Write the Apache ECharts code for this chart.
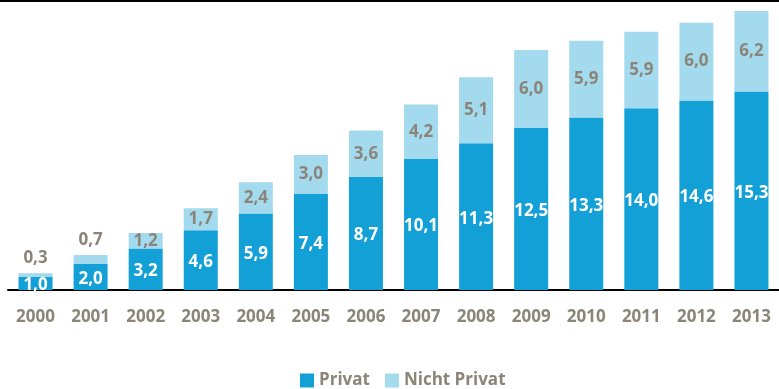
<!DOCTYPE html>
<html>
<head>
<meta charset="utf-8">
<script src="https://cdn.jsdelivr.net/npm/echarts@6/dist/echarts.min.js"></script>
<style>
  html, body { margin: 0; padding: 0; background: #fff; }
  #chart { width: 779px; height: 389px; }
</style>
</head>
<body>
<div id="chart"></div>
<script>
const years = ['2000', '2001', '2002', '2003', '2004', '2005', '2006', '2007', '2008', '2009', '2010', '2011', '2012', '2013'];
const privat = [1.0, 2.0, 3.2, 4.6, 5.9, 7.4, 8.7, 10.1, 11.3, 12.5, 13.3, 14.0, 14.6, 15.3];
const nichtPrivat = [0.3, 0.7, 1.2, 1.7, 2.4, 3.0, 3.6, 4.2, 5.1, 6.0, 5.9, 5.9, 6.0, 6.2];

const grayText = '#8b8579';
const fontFam = '"Open Sans", sans-serif';
const fmt = (p) => p.value.toFixed(1).replace('.', ',');

const chart = echarts.init(document.getElementById('chart'));

chart.setOption({
  animation: false,
  backgroundColor: '#fff',
  grid: { left: 8, width: 779, top: 11, bottom: 99 },
  legend: {
    top: 367,
    left: 295,
    itemWidth: 14,
    itemHeight: 14,
    itemGap: 15,
    icon: 'rect',
    textStyle: { color: grayText, fontSize: 17, fontWeight: 'bold', fontFamily: fontFam },
    data: ['Privat', 'Nicht Privat']
  },
  xAxis: {
    type: 'category',
    data: years,
    axisLine: { lineStyle: { color: '#000', width: 2 } },
    axisTick: { show: false },
    axisLabel: { color: grayText, fontSize: 17, fontWeight: 'bold', fontFamily: fontFam, margin: 19 }
  },
  yAxis: {
    type: 'value',
    min: 0,
    max: 21.5,
    show: false,
    splitLine: { show: false }
  },
  graphic: [
    { type: 'rect', shape: { x: 0, y: 0, width: 779, height: 2 }, style: { fill: '#000' }, z: 100 },
    { type: 'rect', shape: { x: 0, y: 291, width: 779, height: 12 }, style: { fill: '#fff' }, z: 100 }
  ],
  series: [
    {
      name: 'Privat',
      type: 'bar',
      stack: 'total',
      barWidth: 34,
      itemStyle: { color: '#12a0d6' },
      label: {
        show: true,
        position: 'inside',
        offset: [0, 2],
        color: '#fff',
        fontSize: 17,
        fontWeight: 'bold',
        fontFamily: fontFam,
        formatter: fmt
      },
      data: privat
    },
    {
      name: 'Nicht Privat',
      type: 'bar',
      stack: 'total',
      barWidth: 34,
      itemStyle: { color: '#a3daee' },
      label: {
        show: true,
        position: 'inside',
        color: grayText,
        fontSize: 17,
        fontWeight: 'bold',
        fontFamily: fontFam,
        formatter: fmt
      },
      data: nichtPrivat.map(v => v < 1 ? { value: v, label: { position: 'top', distance: 6 } } : v)
    }
  ]
});
</script>
</body>
</html>
